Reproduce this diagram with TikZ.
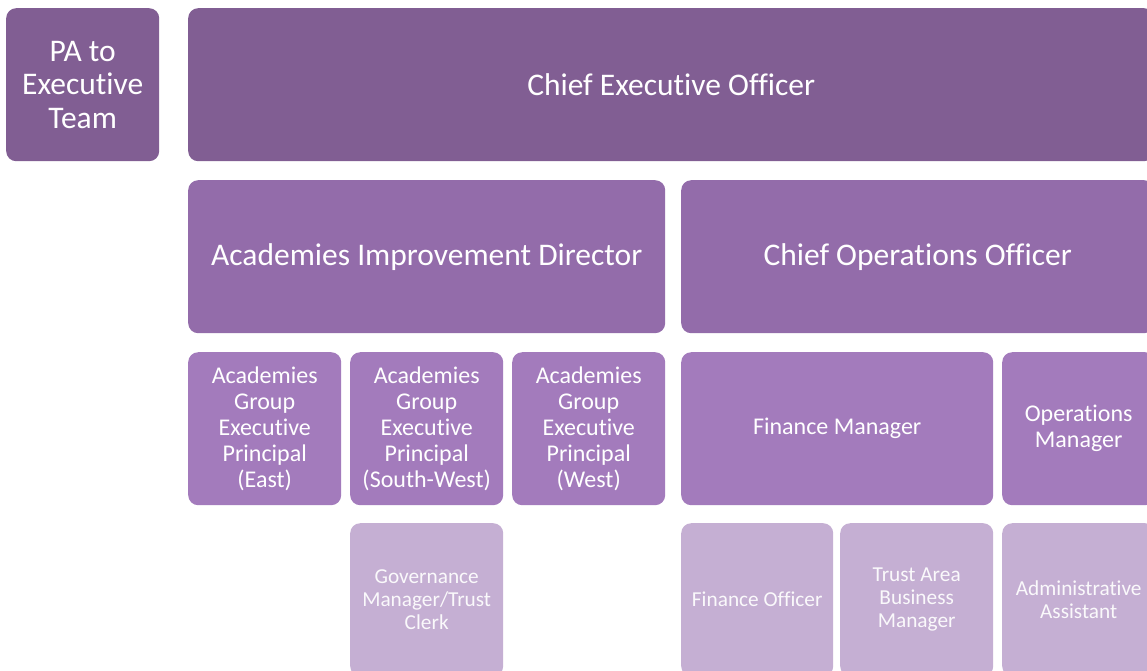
\documentclass[tikz,border=0pt]{standalone}
\usepackage{fontspec}
\setmainfont[Ligatures=NoCommon]{Carlito}
\definecolor{cdark}{HTML}{815E93}
\definecolor{cmid}{HTML}{936CAA}
\definecolor{clight}{HTML}{A37BBC}
\definecolor{cpale}{HTML}{C5AFD3}
\tikzset{
  box/.style={anchor=north west, fill=#1, draw=none, rounded corners=10pt, text=white,
    align=center, inner sep=0pt},
  big/.style={font=\fontsize{31.5}{33.5}\selectfont},
  med/.style={font=\fontsize{24}{26}\selectfont},
  sml/.style={font=\fontsize{21.3}{23}\selectfont, text=white!92!cpale},
}
\begin{document}
\begin{tikzpicture}[x=1pt,y=-1pt]
\useasboundingbox (0,0) rectangle (1147,670);
\clip (0,0) rectangle (1147,670);
% row 1
\node[box=cdark, big, minimum width=153pt, minimum height=153pt] (pa) at (6,8) {PA to\\Executive\\Team};
\node[box=cdark, big, minimum width=966pt, minimum height=153pt] (ceo) at (188,8) {Chief Executive Officer};
% row 2
\node[box=cmid, big, minimum width=477pt, minimum height=153pt] (aid) at (188,180) {Academies Improvement Director};
\node[box=cmid, big, minimum width=473pt, minimum height=153pt] (coo) at (681,180) {Chief Operations Officer};
% row 3
\node[box=clight, med, minimum width=153pt, minimum height=153pt] (east) at (188,352) {Academies\\Group\\Executive\\Principal\\(East)};
\node[box=clight, med, minimum width=153pt, minimum height=153pt] (sw) at (350,352) {Academies\\Group\\Executive\\Principal\\(South-West)};
\node[box=clight, med, minimum width=153pt, minimum height=153pt] (west) at (512,352) {Academies\\Group\\Executive\\Principal\\(West)};
\node[box=clight, med, minimum width=312pt, minimum height=153pt] (fm) at (681,352) {Finance Manager};
\node[box=clight, med, minimum width=153pt, minimum height=153pt] (om) at (1002,352) {Operations\\Manager};
% row 4
\node[box=cpale, sml, minimum width=153pt, minimum height=153pt] (gov) at (350,523) {Governance\\Manager/Trust\\Clerk};
\node[box=cpale, sml, minimum width=152pt, minimum height=153pt] (fo) at (681,523) {Finance Officer};
\node[box=cpale, sml, minimum width=153pt, minimum height=153pt] (tabm) at (840,523) {Trust Area\\Business\\Manager};
\node[box=cpale, sml, minimum width=153pt, minimum height=153pt] (aa) at (1002,523) {Administrative\\Assistant};
\end{tikzpicture}
\end{document}
